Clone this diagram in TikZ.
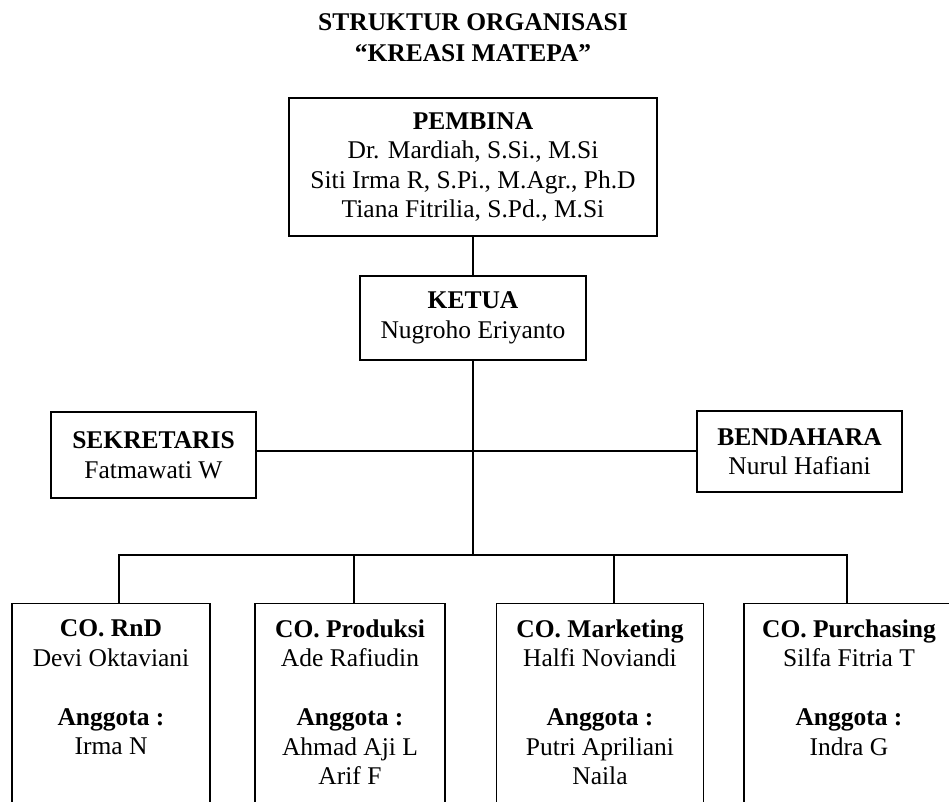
\documentclass[tikz,border=0pt]{standalone}
\usepackage{fontspec}
\setmainfont{Liberation Serif}
\usetikzlibrary{calc,positioning}

\begin{document}
\begin{tikzpicture}[x=1pt,y=-1pt,line width=1.3pt,
  box/.style={draw,align=center,inner sep=0pt,font=\fontsize{25.5}{29.5}\selectfont},
  txt/.style={align=center,inner sep=0pt,font=\fontsize{25.5}{29.5}\selectfont}]
\useasboundingbox (0,0) rectangle (949,801);
\clip (0,0) rectangle (949,801);
%title
\node[txt,font=\fontsize{25.5}{31}\selectfont\bfseries] (title) at (473,38) {STRUKTUR ORGANISASI\\“KREASI MATEPA”};
%top of the chart
\node[box,minimum width=368,minimum height=138] (pembina) at (473,167)
  {\textbf{PEMBINA}\\Dr. Mardiah, S.Si., M.Si\\Siti Irma R, S.Pi., M.Agr., Ph.D\\Tiana Fitrilia, S.Pd., M.Si};
\node[box,minimum width=226,minimum height=84] (ketua) at (473,318)
  {\textbf{KETUA}\\Nugroho Eriyanto};
\node[box,minimum width=205,minimum height=86] (sek) at (153.5,455)
  {\textbf{SEKRETARIS}\\Fatmawati W};
\node[box,minimum width=205,minimum height=81] (ben) at (799.5,451.5)
  {\textbf{BENDAHARA}\\Nurul Hafiani};
\coordinate (hub) at (473,451);
\coordinate (bus) at (473,555);
\draw (pembina) -- (ketua);
\draw (ketua.south) -- (bus);
\draw (sek.east |- hub) -- (ben.west |- hub);
%coordinators
\foreach \nm/\cx/\bw/\dx/\who in {
  rnd/111/198/8/{\textbf{CO. RnD}\\Devi Oktaviani\\[29.5pt]\textbf{Anggota :}\\Irma N},
  prod/350/190/4/{\textbf{CO. Produksi}\\Ade Rafiudin\\[29.5pt]\textbf{Anggota :}\\Ahmad Aji L\\Arif F},
  mkt/600/207/14/{\textbf{CO. Marketing}\\Halfi Noviandi\\[29.5pt]\textbf{Anggota :}\\Putri Apriliani\\Naila},
  pur/849/210/-2/{\textbf{CO. Purchasing}\\Silfa Fitria T\\[29.5pt]\textbf{Anggota :}\\Indra G}} {
  \node[box,minimum width=\bw,minimum height=240,anchor=north] (\nm) at (\cx,603) {};
  \node[txt,anchor=north] (\nm-txt) at ([yshift=-16pt]\nm.north) {\who};
  \draw ([xshift=\dx]\nm.north) |- (bus);
}
\end{tikzpicture}
\end{document}
